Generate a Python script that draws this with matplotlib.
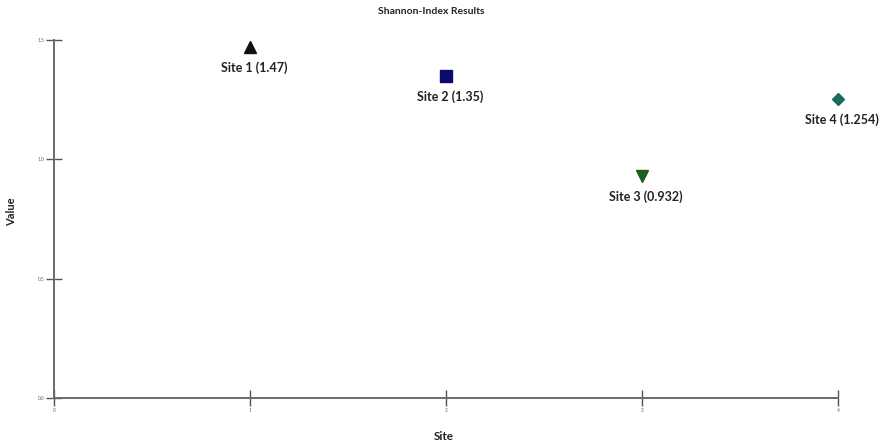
import matplotlib
matplotlib.use('Agg')
import matplotlib.pyplot as plt

sites = ['Site 1', 'Site 2', 'Site 3', 'Site 4']
site_pos = [1, 2, 3, 4]
shannon = [1.47, 1.35, 0.932, 1.254]
value_labels = ['1.47', '1.35', '0.932', '1.254']
markers = ['^', 's', 'v', 'D']
colors = ['#111111', '#0b0b6b', '#1d5e1d', '#1b6b5c']
sizes = [9, 9, 9, 6.5]

x_ticks = [0, 1, 2, 3, 4]
y_ticks = [0.0, 0.5, 1.0, 1.5]

plt.rcParams['font.family'] = ['Lato', 'DejaVu Sans']

fig = plt.figure(figsize=(8.82, 4.45), dpi=100)
ax = fig.add_axes([54 / 882, 47 / 445, 784 / 882, 358 / 445])

for x, y, m, c, s in zip(site_pos, shannon, markers, colors, sizes):
    ax.plot(x, y, marker=m, color=c, markersize=s, linestyle='none', clip_on=False)

for name, x, y, txt in zip(sites, site_pos, shannon, value_labels):
    ax.annotate(f'{name} ({txt})', (x, y), xytext=(3, -15), textcoords='offset points',
                ha='center', va='center', fontsize=9, fontweight='bold', color='#222222',
                annotation_clip=False)

ax.set_xlim(0, 4)
ax.set_ylim(0, 1.5)
ax.set_xticks(x_ticks)
ax.set_yticks(y_ticks)
ax.set_xticklabels([str(t) for t in x_ticks])
ax.set_yticklabels([f'{t:.1f}' for t in y_ticks])
ax.tick_params(direction='inout', length=12, width=1.0, color='#555555',
               labelsize=3.5, labelcolor='#666666', pad=1)

for side in ['top', 'right']:
    ax.spines[side].set_visible(False)
for side in ['left', 'bottom']:
    ax.spines[side].set_color('#6a6a6a')
    ax.spines[side].set_linewidth(1.4)

fig.text(12 / 882, 1 - 212 / 445, 'Value', rotation=90, ha='center', va='center',
         fontsize=8, fontweight='bold', color='#222222')
fig.text(444 / 882, 1 - 437 / 445, 'Site', ha='center', va='center',
         fontsize=8.5, fontweight='bold', color='#222222')
fig.text(431 / 882, 1 - 12 / 445, 'Shannon-Index Results', ha='center', va='center',
         fontsize=7.5, fontweight='bold', color='#222222')

fig.savefig('out.png', dpi=100)
